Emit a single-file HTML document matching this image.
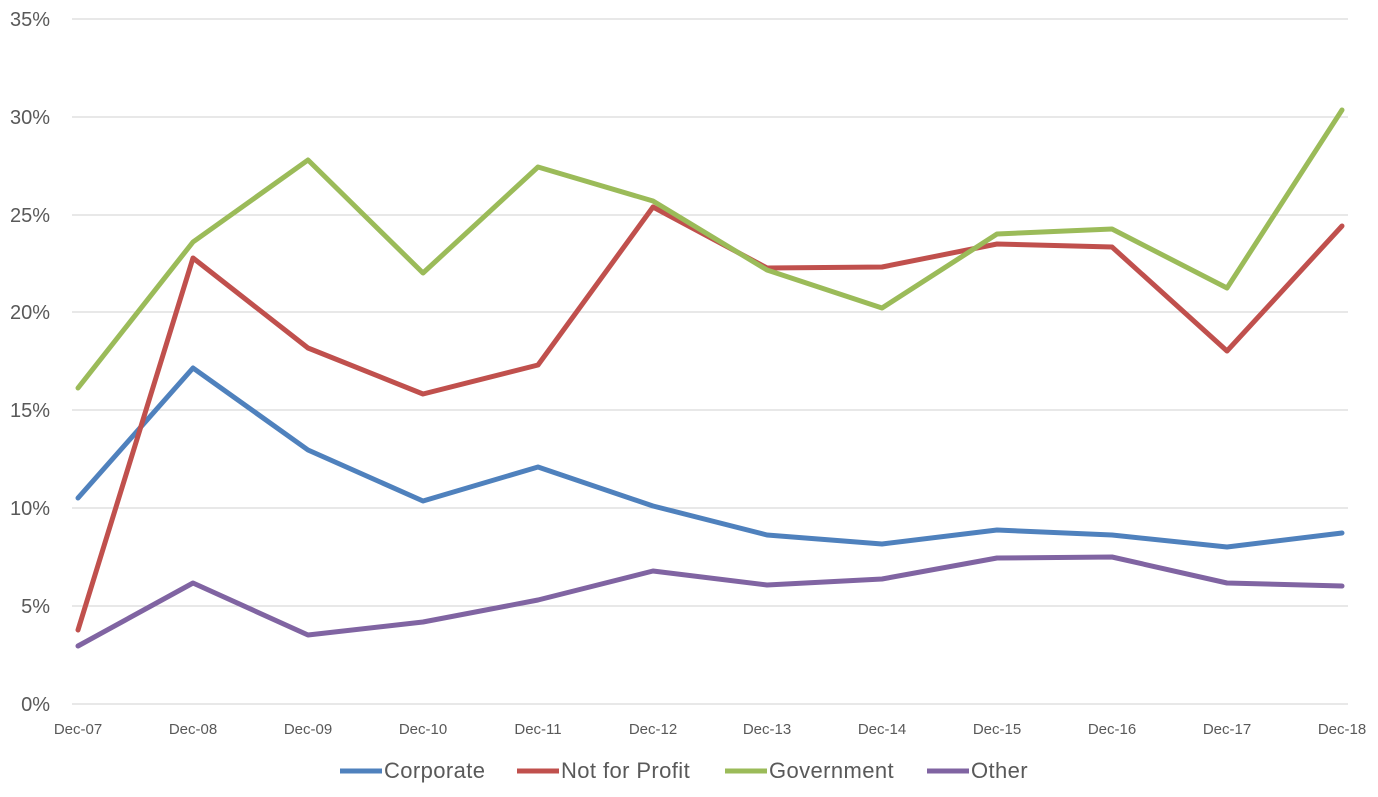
<!DOCTYPE html>
<html><head><meta charset="utf-8"><style>
html,body{margin:0;padding:0;background:#fff;}
svg{display:block;font-family:"Liberation Sans",sans-serif;}
</style></head><body>
<svg width="1378" height="797" viewBox="0 0 1378 797">
<g stroke="#d9d9d9" stroke-width="1.3">
<line x1="72" y1="19" x2="1348" y2="19"/>
<line x1="72" y1="117" x2="1348" y2="117"/>
<line x1="72" y1="215" x2="1348" y2="215"/>
<line x1="72" y1="312" x2="1348" y2="312"/>
<line x1="72" y1="410" x2="1348" y2="410"/>
<line x1="72" y1="508" x2="1348" y2="508"/>
<line x1="72" y1="606" x2="1348" y2="606"/>
<line x1="72" y1="704" x2="1348" y2="704"/>
</g>
<g fill="#595959" font-size="20" text-anchor="end">
<text x="50" y="26">35%</text>
<text x="50" y="124">30%</text>
<text x="50" y="222">25%</text>
<text x="50" y="319">20%</text>
<text x="50" y="417">15%</text>
<text x="50" y="515">10%</text>
<text x="50" y="613">5%</text>
<text x="50" y="711">0%</text>
</g>
<g fill="#595959" font-size="15" text-anchor="middle">
<text x="78" y="734">Dec-07</text>
<text x="193" y="734">Dec-08</text>
<text x="308" y="734">Dec-09</text>
<text x="423" y="734">Dec-10</text>
<text x="538" y="734">Dec-11</text>
<text x="653" y="734">Dec-12</text>
<text x="767" y="734">Dec-13</text>
<text x="882" y="734">Dec-14</text>
<text x="997" y="734">Dec-15</text>
<text x="1112" y="734">Dec-16</text>
<text x="1227" y="734">Dec-17</text>
<text x="1342" y="734">Dec-18</text>
</g>
<g fill="none" stroke-width="5" stroke-linejoin="round" stroke-linecap="round">
<polyline stroke="#4F81BD" points="78,498 193,368 308,450 423,501 538,467 653,506 767,535 882,544 997,530 1112,535 1227,547 1342,533"/>
<polyline stroke="#C0504D" points="78,630 193,258 308,348 423,394 538,365 653,207 767,268 882,267 997,244 1112,247 1227,351 1342,226"/>
<polyline stroke="#9BBB59" points="78,388 193,242 308,160 423,273 538,167 653,201 767,270 882,308 997,234 1112,229 1227,288 1342,110"/>
<polyline stroke="#8064A2" points="78,646 193,583 308,635 423,622 538,600 653,571 767,585 882,579 997,558 1112,557 1227,583 1342,586"/>
</g>
<g stroke-width="5">
<line x1="340" y1="771" x2="382" y2="771" stroke="#4F81BD"/>
<line x1="517" y1="771" x2="559" y2="771" stroke="#C0504D"/>
<line x1="725" y1="771" x2="767" y2="771" stroke="#9BBB59"/>
<line x1="927" y1="771" x2="969" y2="771" stroke="#8064A2"/>
</g>
<g fill="#595959" font-size="22" letter-spacing="0.4">
<text x="384" y="778">Corporate</text>
<text x="561" y="778">Not for Profit</text>
<text x="769" y="778">Government</text>
<text x="971" y="778">Other</text>
</g>
</svg>
</body></html>
